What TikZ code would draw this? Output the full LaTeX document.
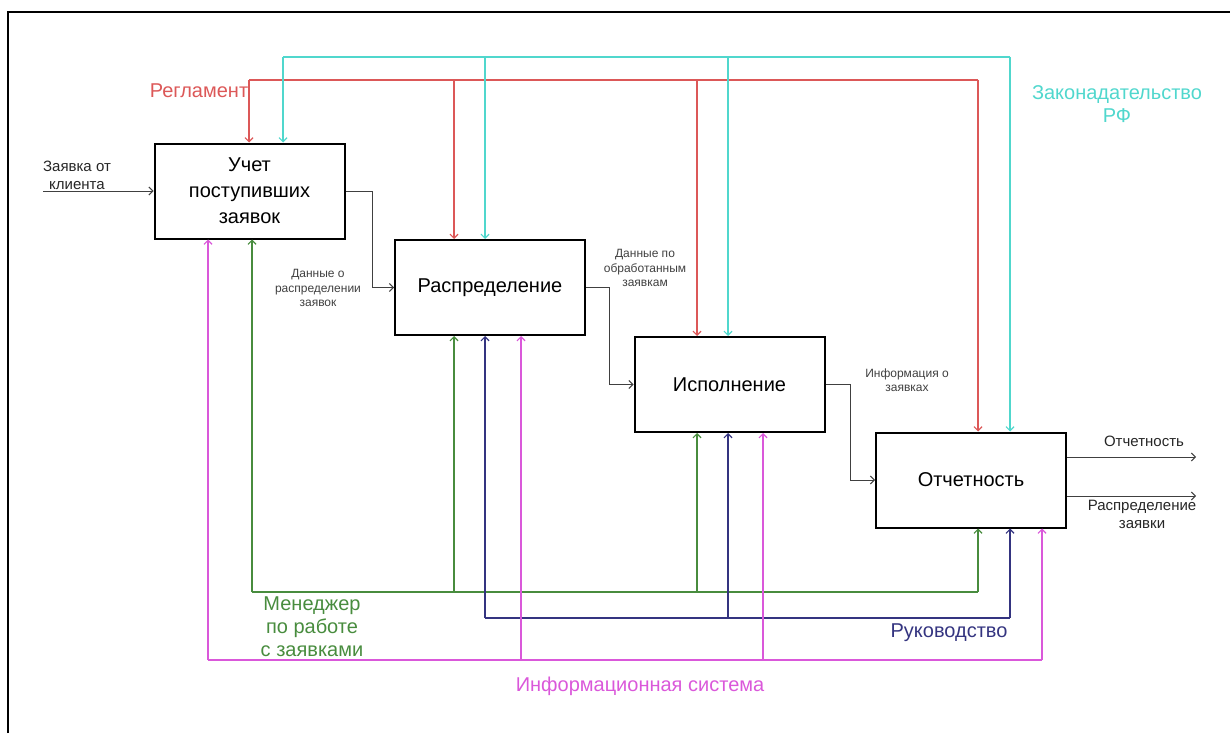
\documentclass[tikz,border=0pt]{standalone}
\usepackage{fontspec}
\setmainfont{Liberation Sans}
\usetikzlibrary{arrows.meta}
\definecolor{regred}{RGB}{220,88,88}
\definecolor{lawcyan}{RGB}{80,215,205}
\definecolor{mgrgreen}{RGB}{72,140,62}
\definecolor{bossblue}{RGB}{52,52,128}
\definecolor{infopink}{RGB}{218,88,218}
\begin{document}
\begin{tikzpicture}[x=0.5pt,y=-0.5pt,
    every node/.style={inner sep=0pt,align=center},
    proc/.style={draw,line width=1pt,minimum width=95pt,minimum height=47.5pt,font=\fontsize{10}{13}\selectfont},
    lbl/.style={font=\fontsize{7.5}{9}\selectfont,text=black!85},
    small/.style={font=\fontsize{6}{7.2}\selectfont,text=black!75},
    big/.style={font=\fontsize{10}{11.5}\selectfont},
    flow/.style={draw=black!75,line width=0.5pt,-{Straight Barb[length=2pt,width=4pt]}},
    ctl/.style={line width=0.6pt,-{Straight Barb[length=2pt,width=4pt]}}]
\useasboundingbox (0,0) rectangle (1230,733);
\draw[line width=0.8pt] (8,733) -- (8,12) -- (1230,12);

% functions
\node[proc] (A) at (249.5,191) {Учет\\поступивших\\заявок};
\node[proc] (B) at (490,287.5) {Распределение};
\node[proc] (C) at (729.5,384.5) {Исполнение};
\node[proc] (D) at (971,480) {Отчетность};

% input / outputs
\coordinate (in) at (43,191);
\coordinate (out1) at (1196,457);
\coordinate (out2) at (1196,496);
\node[lbl] (inl) at (77,175) {Заявка от\\клиента};
\node[lbl] (o1l) at (1144,441) {Отчетность};
\node[lbl] (o2l) at (1142,514) {Распределение\\заявки};
\draw[flow] (in) -- (A.west);
\draw[flow] (D.east |- out1) -- (out1);
\draw[flow] (D.east |- out2) -- (out2);

% flows between functions
\draw[flow] (A.east) -- ++(27,0) |- (B.west);
\draw[flow] (B.east) -- ++(23,0) |- (C.west);
\draw[flow] (C.east) -- ++(25,0) |- (D.west);
\node[small] (ab) at (318,288) {Данные о\\распределении\\заявок};
\node[small] (bc) at (645,268) {Данные по\\обработанным\\заявкам};
\node[small] (cd) at (907,380) {Информация о\\заявках};

% controls from above
\foreach \n/\x in {A/249,B/454,C/697,D/978} \coordinate (r\n) at (\x,80);
\foreach \n/\x in {A/283,B/485,C/728,D/1010} \coordinate (c\n) at (\x,57);
\draw[regred,line width=0.6pt] (rA) -- (rD);
\draw[lawcyan,line width=0.6pt] (cA) -- (cD);
\foreach \n in {A,B,C,D} {
  \draw[ctl,regred] (r\n) -- (r\n |- \n.north);
  \draw[ctl,lawcyan] (c\n) -- (c\n |- \n.north);
}
\node[big,text=regred] (regl) at (199,91) {Регламент};
\node[big,text=lawcyan] (lawl) at (1117,104) {Законадательство\\РФ};

% mechanisms from below
\foreach \n/\x in {A/252,B/454,C/697,D/978} \coordinate (g\n) at (\x,592);
\foreach \n/\x in {B/485,C/728,D/1010} \coordinate (n\n) at (\x,618);
\foreach \n/\x in {A/208,B/521,C/763,D/1042} \coordinate (m\n) at (\x,660);
\draw[mgrgreen,line width=0.6pt] (gA) -- (gD);
\draw[bossblue,line width=0.6pt] (nB) -- (nD);
\draw[infopink,line width=0.6pt] (mA) -- (mD);
\foreach \n in {A,B,C,D} {
  \draw[ctl,mgrgreen] (g\n) -- (g\n |- \n.south);
  \draw[ctl,infopink] (m\n) -- (m\n |- \n.south);
}
\foreach \n in {B,C,D} \draw[ctl,bossblue] (n\n) -- (n\n |- \n.south);
\node[big,text=mgrgreen] (mgrl) at (312,627) {Менеджер\\по работе\\с заявками};
\node[big,text=bossblue] (bossl) at (949,633) {Руководство};
\node[big,text=infopink] (infol) at (640,686) {Информационная система};
\end{tikzpicture}
\end{document}
